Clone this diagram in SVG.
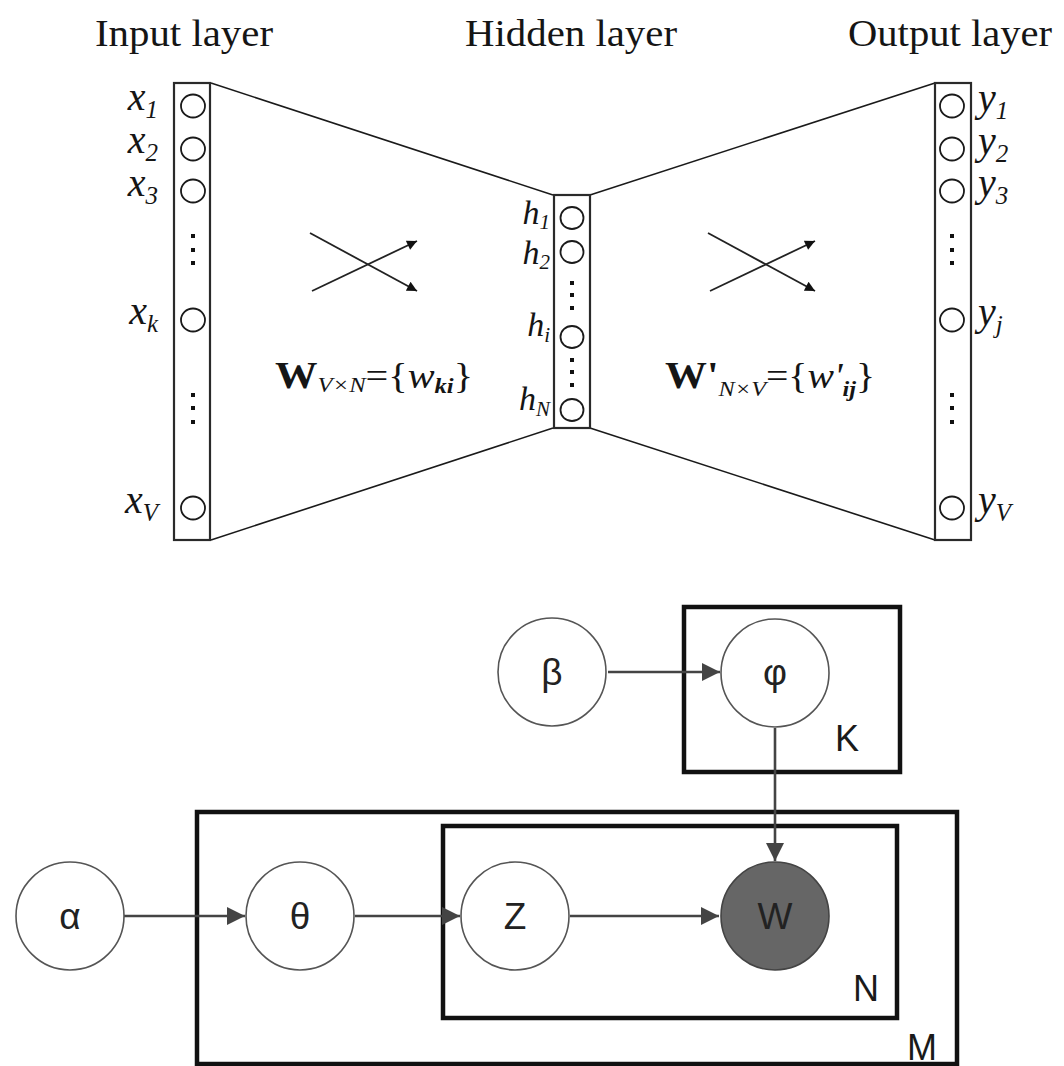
<svg xmlns="http://www.w3.org/2000/svg" width="1064" height="1066" viewBox="0 0 1064 1066">
<style>
.serif{font-family:"Liberation Serif","Times New Roman",serif;fill:#151515}
.title{font-size:37px}
.lab{font-style:italic;font-size:40px}
.sub{font-size:25px}
.hl{font-size:34px}
.hs{font-size:21px}
.box{fill:#fff;stroke:#2a2a2a;stroke-width:2.2}
.unit{fill:#fff;stroke:#1a1a1a;stroke-width:1.8}
.dot{fill:#111}
.edge{stroke:#1a1a1a;stroke-width:1.6;fill:none}
.small{stroke:#222;stroke-width:1.8;fill:none;marker-end:url(#sa)}
.gn{fill:#fff;stroke:#555;stroke-width:1.6}
.obs{fill:#666;stroke:#444;stroke-width:1.6}
.nt{font-family:"Liberation Sans",Arial,sans-serif;font-size:37px;fill:#222;text-anchor:middle}
.plate{fill:none;stroke:#111;stroke-width:4.5}
.pl{font-family:"Liberation Sans",Arial,sans-serif;font-size:36px;fill:#1a1a1a}
.arr{stroke:#444;stroke-width:2.6;fill:none;marker-end:url(#ah)}
</style>
<defs>
<marker id="ah" viewBox="0 0 10 10" refX="10" refY="5" markerUnits="userSpaceOnUse" markerWidth="23" markerHeight="18" orient="auto"><path d="M0,0 L10,5 L0,10 z" fill="#444"/></marker>
<marker id="sa" viewBox="0 0 10 10" refX="10" refY="5" markerUnits="userSpaceOnUse" markerWidth="13" markerHeight="10" orient="auto"><path d="M0,0 L10,5 L0,10 z" fill="#111"/></marker>
</defs>
<rect width="1064" height="1066" fill="#fff"/>

<g id="titles" class="serif title">
<text x="95" y="46" textLength="178" lengthAdjust="spacingAndGlyphs">Input layer</text>
<text x="465" y="46" textLength="212" lengthAdjust="spacingAndGlyphs">Hidden layer</text>
<text x="848" y="46" textLength="204" lengthAdjust="spacingAndGlyphs">Output layer</text>
</g>

<g id="layer-connectors">
<line class="edge" x1="211" y1="83" x2="553" y2="195"/>
<line class="edge" x1="211" y1="540" x2="553" y2="428"/>
<line class="edge" x1="590" y1="195" x2="935" y2="83"/>
<line class="edge" x1="590" y1="428" x2="935" y2="540"/>
<line class="small" x1="310" y1="233" x2="417" y2="291"/>
<line class="small" x1="312" y1="291" x2="417" y2="241"/>
<line class="small" x1="708" y1="233" x2="815" y2="291"/>
<line class="small" x1="710" y1="291" x2="815" y2="241"/>
</g>

<g id="input-layer">
<rect class="box" x="174" y="83" width="36" height="457"/>
<ellipse class="unit" cx="193" cy="106" rx="12" ry="11.5"/>
<ellipse class="unit" cx="193" cy="149" rx="12" ry="11.5"/>
<ellipse class="unit" cx="193" cy="191" rx="12" ry="11.5"/>
<ellipse class="unit" cx="193" cy="320" rx="12" ry="11.5"/>
<ellipse class="unit" cx="193" cy="508" rx="12" ry="11.5"/>
<rect class="dot" x="191" y="234" width="4" height="4"/>
<rect class="dot" x="191" y="248" width="4" height="4"/>
<rect class="dot" x="191" y="261" width="4" height="4"/>
<rect class="dot" x="191" y="393" width="4" height="4"/>
<rect class="dot" x="191" y="406" width="4" height="4"/>
<rect class="dot" x="191" y="420" width="4" height="4"/>
<g class="serif lab" text-anchor="end">
<text x="158" y="110">x<tspan class="sub" dy="8">1</tspan></text>
<text x="158" y="153">x<tspan class="sub" dy="8">2</tspan></text>
<text x="158" y="196">x<tspan class="sub" dy="8">3</tspan></text>
<text x="158" y="324">x<tspan class="sub" dy="8">k</tspan></text>
<text x="158" y="513">x<tspan class="sub" dy="8">V</tspan></text>
</g>
</g>

<g id="hidden-layer">
<rect class="box" x="554" y="195" width="36" height="233"/>
<ellipse class="unit" cx="572" cy="218" rx="11.5" ry="11"/>
<ellipse class="unit" cx="572" cy="252" rx="11.5" ry="11"/>
<ellipse class="unit" cx="572" cy="337" rx="11.5" ry="11"/>
<ellipse class="unit" cx="572" cy="410" rx="11.5" ry="11"/>
<rect class="dot" x="570" y="281" width="4" height="4"/>
<rect class="dot" x="570" y="293" width="4" height="4"/>
<rect class="dot" x="570" y="306" width="4" height="4"/>
<rect class="dot" x="570" y="358" width="4" height="4"/>
<rect class="dot" x="570" y="370" width="4" height="4"/>
<rect class="dot" x="570" y="383" width="4" height="4"/>
<g class="serif lab hl" text-anchor="end">
<text x="550" y="224">h<tspan class="hs" dy="5">1</tspan></text>
<text x="550" y="264">h<tspan class="hs" dy="5">2</tspan></text>
<text x="550" y="336">h<tspan class="hs" dy="6">i</tspan></text>
<text x="550" y="410">h<tspan class="hs" dy="6">N</tspan></text>
</g>
</g>

<g id="output-layer">
<rect class="box" x="935" y="83" width="36" height="457"/>
<ellipse class="unit" cx="952" cy="106" rx="12" ry="11.5"/>
<ellipse class="unit" cx="952" cy="149" rx="12" ry="11.5"/>
<ellipse class="unit" cx="952" cy="191" rx="12" ry="11.5"/>
<ellipse class="unit" cx="952" cy="320" rx="12" ry="11.5"/>
<ellipse class="unit" cx="952" cy="508" rx="12" ry="11.5"/>
<rect class="dot" x="950" y="234" width="4" height="4"/>
<rect class="dot" x="950" y="248" width="4" height="4"/>
<rect class="dot" x="950" y="261" width="4" height="4"/>
<rect class="dot" x="950" y="393" width="4" height="4"/>
<rect class="dot" x="950" y="406" width="4" height="4"/>
<rect class="dot" x="950" y="420" width="4" height="4"/>
<g class="serif lab">
<text x="978" y="111">y<tspan class="sub" dy="8">1</tspan></text>
<text x="978" y="154">y<tspan class="sub" dy="8">2</tspan></text>
<text x="978" y="196">y<tspan class="sub" dy="8">3</tspan></text>
<text x="978" y="325">y<tspan class="sub" dy="8">j</tspan></text>
<text x="978" y="513">y<tspan class="sub" dy="8">V</tspan></text>
</g>
</g>

<g id="weights" class="serif">
<text x="275" y="388" font-size="36" textLength="198" lengthAdjust="spacingAndGlyphs"><tspan font-weight="bold" font-size="38">W</tspan><tspan font-style="italic" font-size="22" dy="4">V×N</tspan><tspan dy="-4">={</tspan><tspan font-style="italic">w</tspan><tspan font-style="italic" font-weight="bold" font-size="22" dy="5">ki</tspan><tspan dy="-5">}</tspan></text>
<text x="665" y="388" font-size="36" textLength="210" lengthAdjust="spacingAndGlyphs"><tspan font-weight="bold" font-size="38">W'</tspan><tspan font-style="italic" font-size="22" dy="8">N×V</tspan><tspan dy="-8">={</tspan><tspan font-style="italic">w'</tspan><tspan font-style="italic" font-weight="bold" font-size="22" dy="8">ij</tspan><tspan dy="-8">}</tspan></text>
</g>

<g id="plate-K"><rect class="plate" x="684" y="607" width="216" height="165"/><text class="pl" x="835" y="751">K</text></g>
<g id="plate-M"><rect class="plate" x="197" y="812" width="760" height="252"/><text class="pl" x="907" y="1060">M</text></g>
<g id="plate-N"><rect class="plate" x="443" y="826" width="454" height="192"/><text class="pl" x="853" y="1001">N</text></g>

<g id="connectors">
<line class="arr" x1="608" y1="672" x2="720" y2="672"/>
<line class="arr" x1="775" y1="728" x2="775" y2="861"/>
<line class="arr" x1="124" y1="916" x2="245" y2="916"/>
<line class="arr" x1="355" y1="916" x2="460" y2="916"/>
<line class="arr" x1="570" y1="916" x2="719" y2="916"/>
</g>

<g id="node-beta"><circle class="gn" cx="552" cy="672" r="54"/><text class="nt" x="552" y="685">β</text></g>
<g id="node-phi"><circle class="gn" cx="775" cy="673" r="54"/><text class="nt" x="775" y="685">φ</text></g>
<g id="node-alpha"><circle class="gn" cx="70" cy="916" r="54"/><text class="nt" x="70" y="929">α</text></g>
<g id="node-theta"><circle class="gn" cx="300" cy="916" r="54"/><text class="nt" x="300" y="929">θ</text></g>
<g id="node-z"><circle class="gn" cx="515" cy="916" r="54"/><text class="nt" x="515" y="929">Z</text></g>
<g id="node-w"><circle class="obs" cx="775" cy="916" r="54"/><text class="nt" x="775" y="929">W</text></g>
</svg>
